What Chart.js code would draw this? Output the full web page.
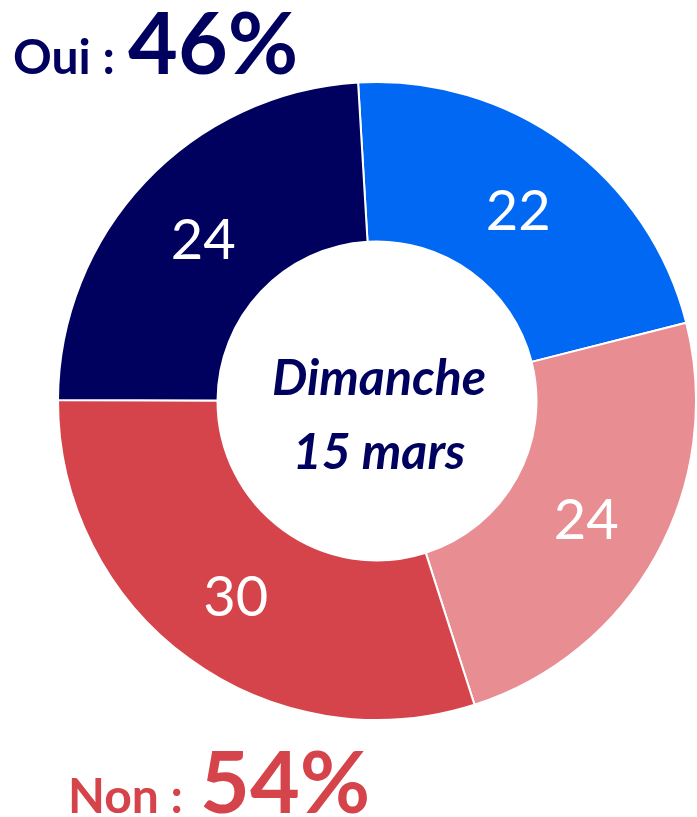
<!DOCTYPE html>
<html>
<head>
<meta charset="utf-8">
<script src="https://cdn.jsdelivr.net/npm/chart.js@4.4.0/dist/chart.umd.min.js"></script>
<style>
  html, body { margin: 0; padding: 0; background: #fff; }
  canvas { display: block; }
</style>
</head>
<body>
<canvas id="donut" width="697" height="817"></canvas>
<script>
// Slices, clockwise from the top
const sliceLabels = ['Oui (1)', 'Non (1)', 'Non (2)', 'Oui (2)'];
const sliceValues = [22, 24, 30, 24];
const sliceColors = ['#0068F3', '#E88D92', '#D5444B', '#00005E'];

// Totals shown above and below the ring
const totalLabels = ['Oui :', 'Non :'];
const totalValues = ['46%', '54%'];
const totalColors = ['#00005E', '#D5444B'];

// Text in the hole
const centerLines = ['Dimanche', '15 mars'];

const FONT = 'Lato, "Open Sans", sans-serif';

// Draws the white numbers inside each slice, the centre text and the totals
const textPlugin = {
    id: 'textPlugin',
    afterDraw(chart) {
        const ctx = chart.ctx;
        const meta = chart.getDatasetMeta(0);
        ctx.save();

        // slice values
        ctx.fillStyle = '#fff';
        ctx.font = '56px ' + FONT;
        ctx.textAlign = 'center';
        ctx.textBaseline = 'alphabetic';
        meta.data.forEach((arc, i) => {
            const p = arc.tooltipPosition();
            ctx.fillText(String(sliceValues[i]), p.x, p.y + 22);
        });

        // centre text
        const c = meta.data[0];
        ctx.fillStyle = '#00005E';
        ctx.font = 'italic bold 50px ' + FONT;
        ctx.fillText(centerLines[0], c.x + 2, 395);
        ctx.fillText(centerLines[1], c.x + 2, 469);

        // totals
        ctx.textAlign = 'left';
        const rows = [{ x: 13, y: 74, gap: 128 }, { x: 68, y: 813, gap: 200 }];
        rows.forEach((r, i) => {
            ctx.fillStyle = totalColors[i];
            ctx.font = 'bold 48px ' + FONT;
            ctx.fillText(totalLabels[i], r.x, r.y);
            ctx.font = 'bold 86px ' + FONT;
            ctx.fillText(totalValues[i], r.gap, r.y);
        });
        ctx.restore();
    }
};

new Chart(document.getElementById('donut'), {
    type: 'doughnut',
    data: {
        labels: sliceLabels,
        datasets: [{
            data: sliceValues,
            backgroundColor: sliceColors,
            borderColor: '#ffffff',
            borderWidth: 2
        }]
    },
    options: {
        responsive: false,
        animation: false,
        rotation: -3.4,
        cutout: '50%',
        layout: { padding: { left: 57, right: 0, top: 81, bottom: 96 } },
        plugins: {
            legend: { display: false },
            tooltip: { enabled: false }
        }
    },
    plugins: [textPlugin]
});
</script>
</body>
</html>
